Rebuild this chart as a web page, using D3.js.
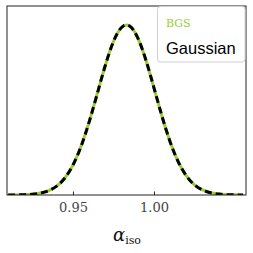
<!DOCTYPE html>
<html><head><meta charset="utf-8">
<script src="https://cdn.jsdelivr.net/npm/d3@7"></script>
<style>body{margin:0;background:#fff}svg{display:block}</style>
</head><body>
<svg id="c" width="253" height="253"></svg>
<script>
const alphaVals = [0.910,0.915,0.920,0.925,0.930,0.935,0.940,0.945,0.950,0.955,0.960,0.965,0.970,0.975,0.980,0.985,0.990,0.995,1.000,1.005,1.010,1.015,1.020,1.025,1.030,1.035,1.040,1.045,1.050,1.055];
const bgsDensity = [0.0002,0.0006,0.0018,0.0047,0.0113,0.0253,0.0523,0.0998,0.1759,0.2862,0.4299,0.5963,0.7636,0.9029,0.9857,0.9936,0.9248,0.7947,0.6305,0.4619,0.3125,0.1951,0.1124,0.0599,0.0295,0.0134,0.0056,0.0022,0.0008,0.0003];
const gaussDensity = [0.0002,0.0006,0.0018,0.0047,0.0113,0.0253,0.0523,0.0998,0.1759,0.2862,0.4299,0.5963,0.7636,0.9029,0.9857,0.9936,0.9248,0.7947,0.6305,0.4619,0.3125,0.1951,0.1124,0.0599,0.0295,0.0134,0.0056,0.0022,0.0008,0.0003];
const tickVals = [0.95, 1.00];
const tickLabels = ["0.95", "1.00"];
const seriesNames = ["BGS", "Gaussian"];

const svg = d3.select("#c");
const L = 7, R = 246, T = 6, B = 195;
const x = d3.scaleLinear().domain([0.9093, 1.0568]).range([L, R]);
const y = d3.scaleLinear().domain([0, 1.112]).range([B, T]);

const line = (ys) => d3.line().x((d,i)=>x(alphaVals[i])).y((d,i)=>y(ys[i])).curve(d3.curveNatural)(alphaVals);

svg.append("clipPath").attr("id","pc").append("rect")
  .attr("x",L).attr("y",T).attr("width",R-L).attr("height",B-T);

const g = svg.append("g").attr("clip-path","url(#pc)");
g.append("path").attr("d", line(bgsDensity)).attr("fill","none")
  .attr("stroke","#9acd32").attr("stroke-width",3);
g.append("path").attr("d", line(gaussDensity)).attr("fill","none")
  .attr("stroke","#000").attr("stroke-width",3).attr("stroke-dasharray","7,4");

// frame
svg.append("rect").attr("x",L).attr("y",T).attr("width",R-L).attr("height",B-T)
  .attr("fill","none").attr("stroke","#222").attr("stroke-width",1);

// x axis
const ax = d3.axisBottom(x).tickValues(tickVals).tickFormat((d,i)=>tickLabels[i]).tickSizeInner(-3.5).tickSizeOuter(0).tickPadding(8);
const axg = svg.append("g").attr("transform",`translate(0,${B})`).call(ax);
axg.select(".domain").remove();
axg.selectAll("line").attr("stroke","#222");
axg.selectAll("text").attr("font-family","DejaVu Serif").attr("font-size",13).attr("fill","#444");

// x label
const lbl = svg.append("text").attr("x",127).attr("y",241).attr("text-anchor","middle")
  .attr("font-family","DejaVu Serif").attr("fill","#111");
lbl.append("tspan").attr("font-style","italic").attr("font-size",18).text("α");
lbl.append("tspan").attr("font-size",11).attr("dy",3).text("iso");

// legend
svg.append("rect").attr("x",157.5).attr("y",6.5).attr("width",87.5).attr("height",55.5).attr("rx",3)
  .attr("fill","#fff").attr("fill-opacity",0.85).attr("stroke","#d0d0d0").attr("stroke-width",1);
svg.append("text").attr("x",166).attr("y",27).attr("font-family","DejaVu Serif").attr("font-size",11)
  .attr("fill","#9acd32").text(seriesNames[0]);
svg.append("text").attr("x",166).attr("y",54).attr("font-family","Liberation Sans").attr("font-size",16.5)
  .attr("fill","#000").text(seriesNames[1]);
</script>
</body></html>
